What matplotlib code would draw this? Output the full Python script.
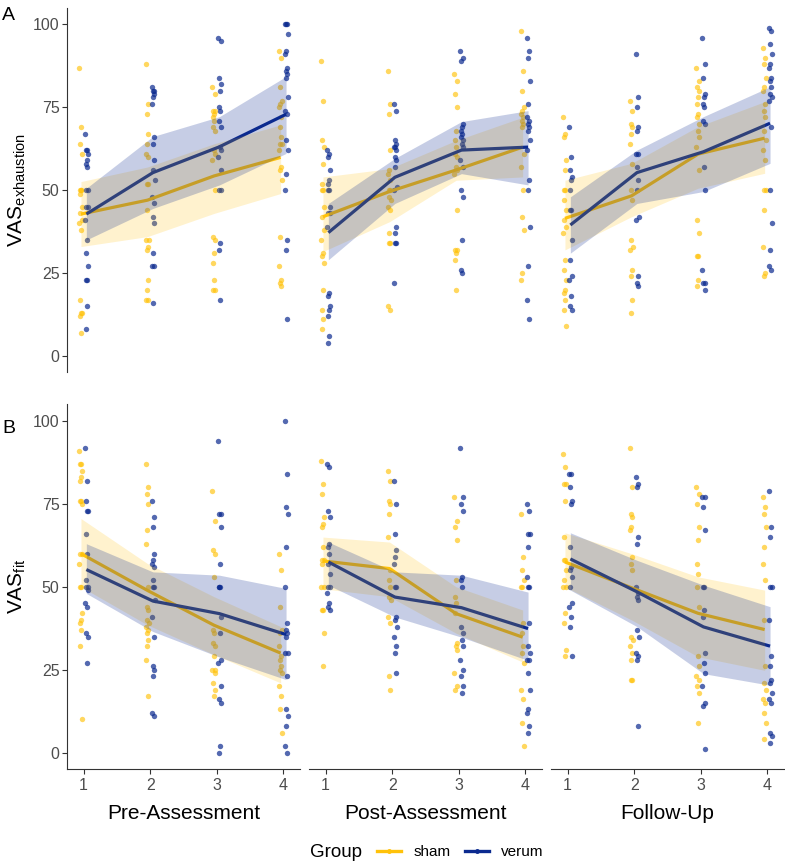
import matplotlib
matplotlib.use('Agg')
import matplotlib.pyplot as plt
from matplotlib.lines import Line2D

plt.rcParams['font.family'] = ['Liberation Sans', 'DejaVu Sans']
plt.rcParams['mathtext.fontset'] = 'custom'
plt.rcParams['mathtext.rm'] = 'Liberation Sans'

# ---- data ----
timepoints = [1, 2, 3, 4]
phases = ['Pre-Assessment', 'Post-Assessment', 'Follow-Up']
groups = ['sham', 'verum']

# VAS exhaustion, raw ratings per time point
exh_pre_sham = [
    [87, 69, 64, 61, 50, 50, 50, 49, 45, 43, 41, 40, 38, 17, 13, 13, 12, 7],
    [88, 76, 73, 67, 64, 61, 60, 52, 52, 44, 35, 35, 33, 32, 23, 20, 17, 17],
    [81, 79, 74, 74, 73, 72, 71, 69, 68, 62, 61, 59, 50, 36, 35, 31, 28, 23, 20, 20],
    [92, 90, 81, 77, 76, 75, 72, 69, 66, 64, 64, 62, 57, 56, 53, 36, 27, 23, 22, 21]]
exh_pre_verum = [
    [67, 62, 62, 61, 59, 58, 57, 50, 50, 45, 45, 41, 35, 31, 27, 23, 23, 15, 8],
    [81, 80, 80, 79, 78, 76, 66, 64, 59, 56, 53, 48, 46, 42, 40, 31, 27, 27, 16],
    [96, 95, 84, 82, 80, 75, 74, 71, 69, 63, 62, 60, 56, 50, 50, 34, 32, 17],
    [100, 100, 100, 97, 92, 91, 87, 86, 85, 84, 78, 74, 73, 65, 62, 55, 50, 35, 32, 11]]
exh_post_sham = [
    [89, 77, 65, 63, 58, 52, 50, 50, 45, 42, 38, 35, 31, 30, 28, 20, 14, 11, 8],
    [86, 76, 73, 62, 56, 55, 53, 50, 50, 48, 47, 45, 44, 37, 34, 34, 15, 14],
    [85, 83, 79, 75, 68, 65, 63, 61, 60, 57, 56, 55, 44, 32, 32, 31, 29, 20],
    [98, 86, 80, 75, 74, 73, 72, 71, 70, 69, 61, 57, 50, 42, 38, 25, 23]]
exh_post_verum = [
    [62, 61, 60, 56, 53, 52, 50, 50, 45, 43, 43, 39, 19, 18, 15, 14, 12, 6, 4],
    [76, 74, 65, 64, 63, 63, 62, 60, 59, 57, 51, 50, 39, 37, 34, 34, 22],
    [92, 90, 89, 70, 69, 68, 67, 66, 65, 64, 63, 59, 57, 50, 48, 35, 26, 25],
    [96, 92, 90, 83, 76, 72, 71, 70, 69, 68, 65, 62, 53, 50, 39, 27, 17, 11]]
exh_fu_sham = [
    [72, 67, 66, 59, 56, 50, 50, 47, 44, 41, 39, 37, 29, 26, 23, 20, 19, 17, 14, 9],
    [77, 74, 70, 69, 67, 64, 58, 50, 47, 35, 33, 32, 26, 24, 17, 13],
    [87, 83, 81, 80, 78, 76, 73, 72, 70, 68, 66, 63, 56, 41, 37, 30, 30, 23, 21],
    [93, 90, 88, 84, 81, 80, 76, 74, 72, 68, 65, 62, 59, 50, 50, 44, 33, 25, 24]]
exh_fu_verum = [
    [69, 60, 56, 54, 53, 50, 44, 44, 35, 29, 24, 23, 18, 15, 14],
    [91, 78, 75, 69, 68, 61, 61, 57, 53, 50, 42, 41, 24, 22, 21],
    [96, 88, 84, 79, 78, 76, 75, 71, 70, 57, 50, 26, 22, 22, 20],
    [99, 98, 94, 91, 88, 87, 84, 83, 81, 79, 78, 77, 69, 50, 40, 32, 27, 26]]

# VAS fit, raw ratings per time point
fit_pre_sham = [
    [91, 87, 87, 85, 83, 82, 76, 76, 75, 60, 60, 57, 50, 50, 42, 40, 39, 37, 32, 10],
    [87, 80, 78, 75, 67, 63, 50, 44, 43, 40, 39, 38, 37, 36, 34, 32, 28, 17],
    [79, 70, 61, 60, 53, 37, 36, 33, 32, 29, 25, 25, 24, 21, 19, 17],
    [60, 55, 44, 37, 36, 32, 29, 28, 26, 25, 24, 20, 17, 13, 6]]
fit_pre_verum = [
    [92, 82, 76, 73, 73, 66, 60, 52, 50, 50, 49, 45, 44, 36, 35, 27],
    [76, 71, 68, 60, 58, 57, 56, 52, 50, 50, 46, 41, 35, 26, 25, 23, 12, 11],
    [94, 72, 72, 68, 57, 50, 50, 50, 41, 36, 28, 27, 20, 16, 15, 2, 0],
    [100, 84, 74, 72, 62, 50, 39, 37, 36, 35, 30, 30, 23, 13, 11, 8, 2, 0]]
fit_post_sham = [
    [88, 81, 78, 71, 69, 68, 62, 58, 58, 57, 50, 50, 43, 43, 36, 26],
    [85, 82, 76, 75, 72, 65, 55, 52, 50, 47, 46, 41, 39, 23, 19],
    [77, 70, 68, 64, 52, 47, 45, 42, 33, 32, 31, 24, 20, 19],
    [72, 59, 55, 52, 50, 50, 39, 36, 32, 30, 27, 19, 16, 9, 2]]
fit_post_verum = [
    [87, 86, 73, 71, 63, 62, 60, 57, 54, 50, 50, 48, 45, 44, 43],
    [82, 75, 66, 61, 59, 57, 50, 50, 41, 40, 38, 35, 32, 30, 24],
    [92, 77, 75, 73, 53, 52, 50, 38, 36, 34, 32, 28, 25, 23, 20, 18],
    [75, 73, 66, 66, 62, 53, 50, 50, 39, 32, 30, 28, 28, 24, 19, 13, 12, 8, 6]]
fit_fu_sham = [
    [90, 86, 81, 81, 76, 65, 58, 58, 55, 52, 50, 50, 42, 39, 31, 29],
    [92, 80, 72, 71, 68, 67, 59, 57, 55, 35, 34, 32, 30, 28, 22, 22],
    [80, 78, 75, 68, 64, 57, 54, 50, 44, 29, 26, 23, 22, 20, 18, 9],
    [77, 74, 72, 68, 62, 57, 52, 40, 26, 21, 19, 16, 15, 12, 9, 4]]
fit_fu_verum = [
    [84, 84, 80, 76, 75, 62, 56, 55, 53, 50, 45, 44, 41, 38, 29],
    [83, 81, 80, 65, 63, 50, 48, 47, 46, 37, 35, 30, 29, 28, 8],
    [77, 77, 74, 67, 50, 50, 43, 41, 30, 27, 24, 20, 15, 14, 1],
    [79, 68, 65, 50, 50, 40, 29, 26, 22, 21, 18, 16, 15, 6, 5, 3]]

# group means with confidence band (lower, upper)
exh_pre_sham_mean = [42.8, 47.0, 54.3, 59.9]
exh_pre_sham_lo = [33.0, 36.0, 43.0, 49.0]
exh_pre_sham_hi = [52.6, 57.0, 64.0, 69.7]
exh_pre_verum_mean = [42.8, 55.3, 63.1, 72.9]
exh_pre_verum_lo = [35.0, 44.5, 51.6, 61.1]
exh_pre_verum_hi = [50.6, 66.2, 72.2, 84.3]

exh_post_sham_mean = [42.0, 49.6, 56.1, 63.0]
exh_post_sham_lo = [31.5, 40.5, 53.0, 54.0]
exh_post_sham_hi = [54.0, 56.5, 65.0, 72.0]
exh_post_verum_mean = [37.2, 53.9, 62.1, 63.0]
exh_post_verum_lo = [29.0, 46.0, 55.0, 51.6]
exh_post_verum_hi = [46.0, 59.6, 70.7, 74.0]

exh_fu_sham_mean = [41.5, 48.3, 60.9, 65.7]
exh_fu_sham_lo = [32.0, 42.0, 50.6, 55.1]
exh_fu_sham_hi = [53.0, 58.1, 69.2, 76.7]
exh_fu_verum_mean = [39.5, 55.3, 61.6, 70.2]
exh_fu_verum_lo = [31.0, 46.0, 49.6, 58.1]
exh_fu_verum_hi = [48.0, 62.1, 72.2, 81.2]

fit_pre_sham_mean = [60.0, 48.9, 38.4, 30.0]
fit_pre_sham_lo = [50.0, 38.5, 29.5, 21.0]
fit_pre_sham_hi = [70.6, 57.0, 47.0, 38.0]
fit_pre_verum_mean = [55.2, 45.7, 41.9, 35.6]
fit_pre_verum_lo = [48.0, 36.5, 28.8, 22.0]
fit_pre_verum_hi = [63.0, 54.5, 53.5, 49.5]

fit_post_sham_mean = [57.8, 55.5, 41.9, 34.8]
fit_post_sham_lo = [49.4, 47.0, 36.0, 27.3]
fit_post_sham_hi = [65.0, 63.5, 50.0, 43.0]
fit_post_verum_mean = [57.5, 46.9, 43.7, 37.4]
fit_post_verum_lo = [50.5, 40.9, 34.8, 27.8]
fit_post_verum_hi = [63.5, 54.5, 53.5, 48.4]

fit_fu_sham_mean = [57.5, 49.7, 42.0, 37.1]
fit_fu_sham_lo = [50.0, 40.0, 28.9, 24.8]
fit_fu_sham_hi = [66.3, 60.0, 53.0, 49.0]
fit_fu_verum_mean = [58.4, 48.5, 37.9, 32.1]
fit_fu_verum_lo = [49.0, 38.0, 23.8, 20.3]
fit_fu_verum_hi = [66.3, 58.0, 50.5, 44.0]

# ---- lookup tables built from the lists above ----
raw = {
    ('exh', 0, 'sham'): exh_pre_sham, ('exh', 0, 'verum'): exh_pre_verum,
    ('exh', 1, 'sham'): exh_post_sham, ('exh', 1, 'verum'): exh_post_verum,
    ('exh', 2, 'sham'): exh_fu_sham, ('exh', 2, 'verum'): exh_fu_verum,
    ('fit', 0, 'sham'): fit_pre_sham, ('fit', 0, 'verum'): fit_pre_verum,
    ('fit', 1, 'sham'): fit_post_sham, ('fit', 1, 'verum'): fit_post_verum,
    ('fit', 2, 'sham'): fit_fu_sham, ('fit', 2, 'verum'): fit_fu_verum,
}
summary = {
    ('exh', 0, 'sham'): (exh_pre_sham_mean, exh_pre_sham_lo, exh_pre_sham_hi),
    ('exh', 0, 'verum'): (exh_pre_verum_mean, exh_pre_verum_lo, exh_pre_verum_hi),
    ('exh', 1, 'sham'): (exh_post_sham_mean, exh_post_sham_lo, exh_post_sham_hi),
    ('exh', 1, 'verum'): (exh_post_verum_mean, exh_post_verum_lo, exh_post_verum_hi),
    ('exh', 2, 'sham'): (exh_fu_sham_mean, exh_fu_sham_lo, exh_fu_sham_hi),
    ('exh', 2, 'verum'): (exh_fu_verum_mean, exh_fu_verum_lo, exh_fu_verum_hi),
    ('fit', 0, 'sham'): (fit_pre_sham_mean, fit_pre_sham_lo, fit_pre_sham_hi),
    ('fit', 0, 'verum'): (fit_pre_verum_mean, fit_pre_verum_lo, fit_pre_verum_hi),
    ('fit', 1, 'sham'): (fit_post_sham_mean, fit_post_sham_lo, fit_post_sham_hi),
    ('fit', 1, 'verum'): (fit_post_verum_mean, fit_post_verum_lo, fit_post_verum_hi),
    ('fit', 2, 'sham'): (fit_fu_sham_mean, fit_fu_sham_lo, fit_fu_sham_hi),
    ('fit', 2, 'verum'): (fit_fu_verum_mean, fit_fu_verum_lo, fit_fu_verum_hi),
}

# ---- style ----
colors = {'sham': '#FFC20A', 'verum': '#0B2A8F'}
point_alpha = {'sham': 0.65, 'verum': 0.7}
band_alpha = {'sham': 0.2, 'verum': 0.23}
dodge = {'sham': -0.045, 'verum': 0.045}
jitter = [-0.02, 0.012, -0.006, 0.018, 0.0, -0.014, 0.008, -0.01, 0.015, -0.003, 0.02]
axis_col = '#333333'
tick_col = '#4D4D4D'

W, H = 785, 863
fig = plt.figure(figsize=(W / 100, H / 100), dpi=100)


def rect(left, top, w, h):
    return [left / W, 1 - (top + h) / H, w / W, h / H]


col_left = [67, 309, 551]
row_top = [7.9, 404.5]
pw, ph = 233, 364.6

for r, measure in enumerate(['exh', 'fit']):
    for c in range(3):
        ax = fig.add_axes(rect(col_left[c], row_top[r], pw, ph))
        for g in groups:
            vals = raw[(measure, c, g)]
            xs, ys = [], []
            for t, tp in enumerate(timepoints):
                for i, v in enumerate(vals[t]):
                    xs.append(tp + dodge[g] + jitter[i % len(jitter)])
                    ys.append(v)
            ax.scatter(xs, ys, s=15, color=colors[g], alpha=point_alpha[g],
                       linewidths=0, zorder=1)
        # ggplot order: line first, band painted over it
        for g in groups:
            m, lo, hi = summary[(measure, c, g)]
            xl = [tp + dodge[g] * 0.9 for tp in timepoints]
            ax.plot(xl, m, color=colors[g], lw=2.3, zorder=2,
                    solid_capstyle='butt')
        for g in groups:
            m, lo, hi = summary[(measure, c, g)]
            xl = [tp + dodge[g] * 0.9 for tp in timepoints]
            ax.fill_between(xl, lo, hi, color=colors[g], alpha=band_alpha[g],
                            linewidth=0, zorder=3)

        ax.set_xlim(0.75, 4.25)
        ax.set_ylim(-5, 105)
        for s in ['top', 'right', 'left', 'bottom']:
            ax.spines[s].set_visible(False)
        if c == 0:
            ax.spines['left'].set_visible(True)
            ax.spines['left'].set_color(axis_col)
            ax.spines['left'].set_linewidth(0.8)
            ax.set_yticks([0, 25, 50, 75, 100])
            ax.tick_params(axis='y', length=3.6, width=0.8, color=axis_col,
                           pad=1.8, labelsize=11.5, labelcolor=tick_col)
        else:
            ax.set_yticks([])
        if r == 1:
            ax.spines['bottom'].set_visible(True)
            ax.spines['bottom'].set_color(axis_col)
            ax.spines['bottom'].set_linewidth(0.8)
            ax.set_xticks(timepoints)
            ax.tick_params(axis='x', length=3.6, width=0.8, color=axis_col,
                           pad=3, labelsize=11.5, labelcolor=tick_col)
        else:
            ax.set_xticks([])

# y axis titles
fig.text(17 / W, 1 - 190 / H, r'VAS$_{\mathregular{exhaustion}}$', rotation=90,
         ha='center', va='center', fontsize=15)
fig.text(17 / W, 1 - 586 / H, r'VAS$_{\mathregular{fit}}$', rotation=90,
         ha='center', va='center', fontsize=15)

# panel tags
fig.text(2 / W, 1 - 20 / H, 'A', ha='left', va='baseline', fontsize=14)
fig.text(2 / W, 1 - 433 / H, 'B', ha='left', va='baseline', fontsize=14)

# phase titles under the columns
for c, name in enumerate(phases):
    fig.text((col_left[c] + pw / 2) / W, 1 - 813 / H, name,
             ha='center', va='center', fontsize=15)

# legend
fig.text(310 / W, 1 - 852 / H, 'Group', ha='left', va='center', fontsize=13.5)
handles = [Line2D([0], [0], color=colors[g], lw=2.4, marker='o', markersize=2.5)
           for g in groups]
fig.legend(handles, groups, loc='center left',
           bbox_to_anchor=(377 / W, 1 - 852 / H), ncol=2, frameon=False,
           fontsize=11, handlelength=1.6, handletextpad=0.8,
           columnspacing=0.9, borderpad=0, borderaxespad=0)

fig.savefig('out.png', dpi=100)
plt.close(fig)
